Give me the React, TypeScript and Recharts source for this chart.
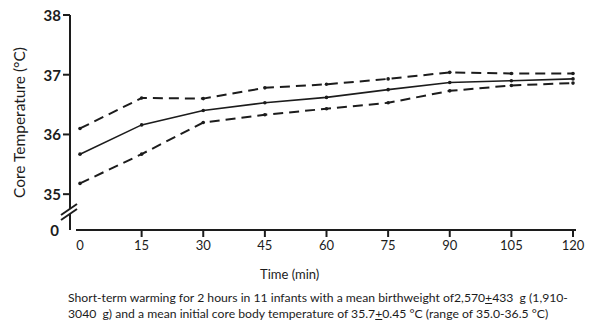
import { Line, LineChart, XAxis, YAxis } from 'recharts';

const timeMin = [0, 15, 30, 45, 60, 75, 90, 105, 120];
const meanTemp = [35.67, 36.16, 36.4, 36.53, 36.62, 36.75, 36.87, 36.9, 36.93];
const upperTemp = [36.1, 36.61, 36.6, 36.78, 36.84, 36.93, 37.04, 37.02, 37.02];
const lowerTemp = [35.18, 35.67, 36.2, 36.33, 36.43, 36.53, 36.73, 36.82, 36.86];

const xTicks = [0, 15, 30, 45, 60, 75, 90, 105, 120];
// first tick is the broken-axis zero
const yTicks = [34.4, 35, 36, 37, 38];
const yTickLabels = ['0', '35', '36', '37', '38'];

const data = timeMin.map((t, i) => ({
  t,
  mean: meanTemp[i],
  upper: upperTemp[i],
  lower: lowerTemp[i],
}));

const INK = '#1c1c1c';
const FONT = 'Lato, "Liberation Sans", sans-serif';
const TICK_SIZE = 7;
const TICK_MARGIN = 2;

function YTick(props: any) {
  const { x, y, payload } = props;
  const ax = x + TICK_SIZE + TICK_MARGIN;
  const idx = yTicks.indexOf(payload.value);
  const label = yTickLabels[idx] ?? String(payload.value);
  if (idx === 0) {
    return (
      <g>
        <polygon
          points={`${ax - 9},${y - 10} ${ax + 7},${y - 21} ${ax + 7},${y - 26} ${ax - 9},${y - 15}`}
          fill="#fff"
        />
        <line x1={ax - 9} y1={y - 10} x2={ax + 7} y2={y - 21} stroke={INK} strokeWidth={2} />
        <line x1={ax - 9} y1={y - 15} x2={ax + 7} y2={y - 26} stroke={INK} strokeWidth={2} />
        <text x={x - 2} y={y} textAnchor="end" dominantBaseline="central" fill={INK}
          style={{ fontFamily: FONT, fontSize: 15, fontWeight: 700 }}>
          {label}
        </text>
      </g>
    );
  }
  return (
    <g>
      <line x1={ax - TICK_SIZE} y1={y} x2={ax} y2={y} stroke={INK} strokeWidth={2} />
      <text x={x} y={y} textAnchor="end" dominantBaseline="central" fill={INK}
        style={{ fontFamily: FONT, fontSize: 15, fontWeight: 700 }}>
        {label}
      </text>
    </g>
  );
}

function XTick(props: any) {
  const { x, y, payload } = props;
  const ay = y - TICK_SIZE - TICK_MARGIN;
  return (
    <g>
      {payload.value !== 0 && (
        <line x1={x} y1={ay} x2={x} y2={ay + TICK_SIZE} stroke={INK} strokeWidth={2} />
      )}
      <text x={x} y={y + 6} textAnchor="middle" dominantBaseline="central" fill={INK}
        style={{ fontFamily: FONT, fontSize: 13 }}>
        {payload.value}
      </text>
    </g>
  );
}

const dot = { r: 1.8, fill: INK, stroke: INK, strokeWidth: 0 };

export default function App() {
  return (
    <div
      style={{
        position: 'absolute',
        left: 0,
        top: 0,
        width: 600,
        height: 329,
        background: '#fff',
        fontFamily: FONT,
        color: INK,
      }}
    >
      <LineChart
        width={600}
        height={270}
        data={data}
        margin={{ top: 15, right: 24, bottom: 5, left: 0 }}
      >
        <XAxis
          dataKey="t"
          type="number"
          domain={[0, 120]}
          ticks={xTicks}
          padding={{ left: 10, right: 3 }}
          height={35}
          tickSize={TICK_SIZE}
          tickMargin={TICK_MARGIN}
          tickLine={false}
          tick={<XTick />}
          axisLine={{ stroke: INK, strokeWidth: 2, strokeDasharray: '0 6 700' }}
        />
        <YAxis
          type="number"
          domain={[34.4, 38]}
          ticks={yTicks}
          width={70}
          tickSize={TICK_SIZE}
          tickMargin={TICK_MARGIN}
          tickLine={false}
          tick={<YTick />}
          axisLine={{ stroke: INK, strokeWidth: 2 }}
          label={{
            value: 'Core Temperature (°C)',
            angle: -90,
            position: 'insideLeft',
            dx: 14,
            style: { fontFamily: FONT, fontSize: 15.5, fill: INK, textAnchor: 'middle' },
          }}
        />
        <Line
          dataKey="upper"
          stroke={INK}
          strokeWidth={2}
          strokeDasharray="10 6"
          dot={dot}
          activeDot={false}
          isAnimationActive={false}
        />
        <Line
          dataKey="mean"
          stroke={INK}
          strokeWidth={1.6}
          dot={dot}
          activeDot={false}
          isAnimationActive={false}
        />
        <Line
          dataKey="lower"
          stroke={INK}
          strokeWidth={2}
          strokeDasharray="10 6"
          dot={dot}
          activeDot={false}
          isAnimationActive={false}
        />
      </LineChart>
      <div
        style={{
          position: 'absolute',
          left: 260,
          top: 266,
          fontSize: 13,
          whiteSpace: 'nowrap',
        }}
      >
        Time (min)
      </div>
      <div
        style={{
          position: 'absolute',
          left: 68,
          top: 290,
          fontSize: 12.2,
          lineHeight: '16px',
          whiteSpace: 'nowrap',
        }}
      >
        <div>
          Short-term warming for 2 hours in 11 infants with a mean birthweight of2,570
          <span style={{ textDecoration: 'underline' }}>+</span>433&nbsp; g (1,910-
        </div>
        <div>
          3040&nbsp; g) and a mean initial core body temperature of 35.7
          <span style={{ textDecoration: 'underline' }}>+</span>0.45 °C (range of 35.0-36.5 °C)
        </div>
      </div>
    </div>
  );
}
